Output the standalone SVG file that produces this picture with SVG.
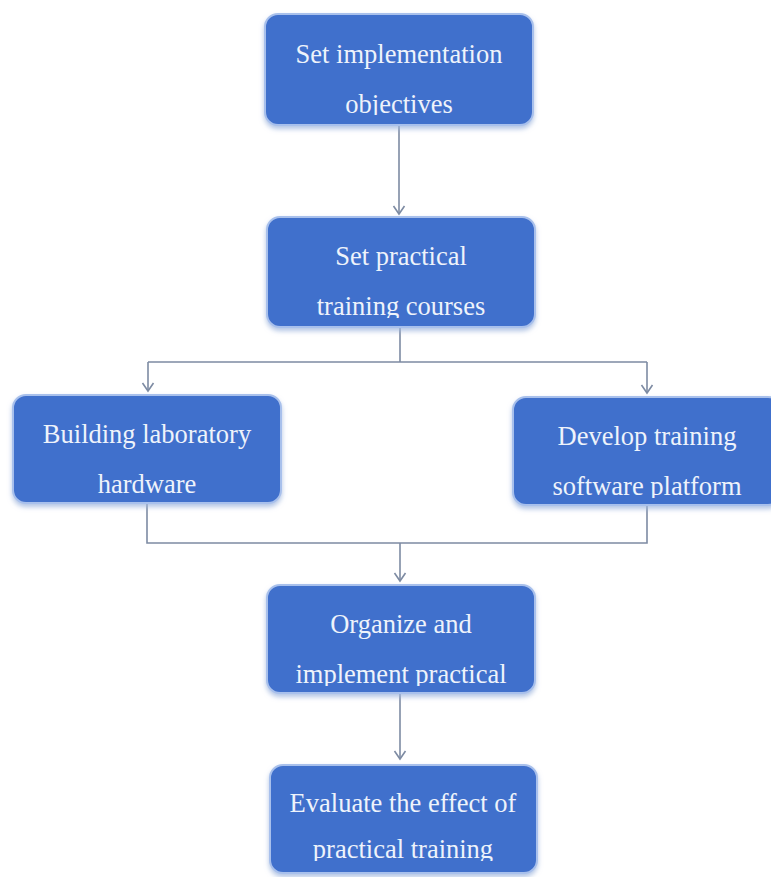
<svg xmlns="http://www.w3.org/2000/svg" width="771" height="877" viewBox="0 0 771 877">
<style>
.box{fill:#4170cc;stroke:#a8c0ec;stroke-width:2;filter:url(#sh)}
.t{font-family:"Liberation Serif","Times New Roman",serif;font-size:26.5px;fill:#eef3fb;text-anchor:middle}
.c{fill:none;stroke:#7d8ba3;stroke-width:1.6}
</style>
<defs>
<filter id="sh" x="-10%" y="-10%" width="120%" height="130%">
<feDropShadow dx="0" dy="3" stdDeviation="2.5" flood-color="#9fb6de" flood-opacity="0.8"/>
</filter>
<marker id="ah" markerUnits="userSpaceOnUse" markerWidth="14" markerHeight="14" refX="11" refY="7" orient="auto" viewBox="0 0 14 14">
<path d="M3,1.5 L11,7 L3,12.5" fill="none" stroke="#7d8ba3" stroke-width="1.6"/>
</marker>
<clipPath id="c1"><rect x="265" y="14" width="268" height="101"/></clipPath>
<clipPath id="c2"><rect x="267" y="217" width="268" height="101"/></clipPath>
<clipPath id="c3"><rect x="13" y="395" width="268" height="101"/></clipPath>
<clipPath id="c4"><rect x="513" y="397" width="268" height="101"/></clipPath>
<clipPath id="c5"><rect x="267" y="585" width="268" height="101"/></clipPath>
<clipPath id="c6"><rect x="270" y="765" width="267" height="96"/></clipPath>
</defs>
<rect width="771" height="877" fill="#ffffff"/>
<g id="connectors">
<path class="c" d="M399,125 V214" marker-end="url(#ah)"/>
<path class="c" d="M400,327 V362 M148,362 H647"/>
<path class="c" d="M148,362 V391" marker-end="url(#ah)"/>
<path class="c" d="M647,362 V393" marker-end="url(#ah)"/>
<path class="c" d="M147,503 V543 H647 V505"/>
<path class="c" d="M400,543 V581" marker-end="url(#ah)"/>
<path class="c" d="M400,693 V759" marker-end="url(#ah)"/>
</g>
<g id="n1">
<rect class="box" x="265" y="14" width="268" height="111" rx="13"/>
<g clip-path="url(#c1)"><text class="t" x="399" y="63">Set implementation</text><text class="t" x="399" y="113">objectives</text></g>
</g>
<g id="n2">
<rect class="box" x="267" y="217" width="268" height="110" rx="13"/>
<g clip-path="url(#c2)"><text class="t" x="401" y="265">Set practical</text><text class="t" x="401" y="315">training courses</text></g>
</g>
<g id="n3">
<rect class="box" x="13" y="395" width="268" height="108" rx="13"/>
<g clip-path="url(#c3)"><text class="t" x="147" y="443">Building laboratory</text><text class="t" x="147" y="493">hardware</text></g>
</g>
<g id="n4">
<rect class="box" x="513" y="397" width="268" height="108" rx="13"/>
<g clip-path="url(#c4)"><text class="t" x="647" y="445">Develop training</text><text class="t" x="647" y="495">software platform</text></g>
</g>
<g id="n5">
<rect class="box" x="267" y="585" width="268" height="108" rx="13"/>
<g clip-path="url(#c5)"><text class="t" x="401" y="633">Organize and</text><text class="t" x="401" y="683">implement practical</text></g>
</g>
<g id="n6">
<rect class="box" x="270" y="765" width="267" height="108" rx="13"/>
<g clip-path="url(#c6)"><text class="t" x="403" y="812">Evaluate the effect of</text><text class="t" x="403" y="858">practical training</text></g>
</g>
</svg>
